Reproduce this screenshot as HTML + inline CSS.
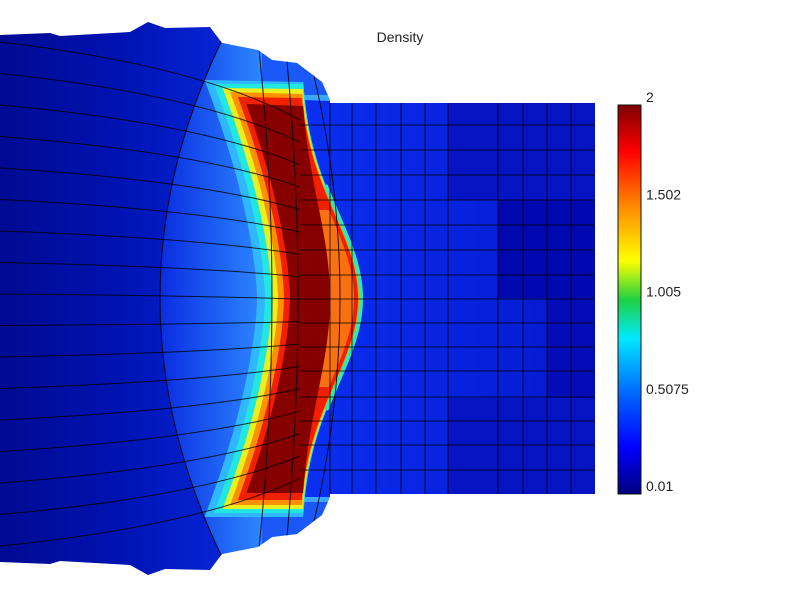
<!DOCTYPE html>
<html><head><meta charset="utf-8"><style>
html,body{margin:0;padding:0;background:#fff;}
svg{display:block;font-family:"Liberation Sans","DejaVu Sans",sans-serif;}
</style></head><body>
<svg id="s" width="800" height="600" viewBox="0 0 800 600">
<defs>
<linearGradient id="jet" x1="0" y1="1" x2="0" y2="0">
<stop offset="0" stop-color="#00007f"/><stop offset="0.12" stop-color="#0000ff"/><stop offset="0.25" stop-color="#0060ff"/><stop offset="0.4" stop-color="#00e8ff"/><stop offset="0.5" stop-color="#20d040"/><stop offset="0.6" stop-color="#ffff00"/><stop offset="0.75" stop-color="#ff8000"/><stop offset="0.88" stop-color="#ff0000"/><stop offset="1" stop-color="#7f0000"/>
</linearGradient>
<linearGradient id="lb" x1="0" y1="0" x2="1" y2="0">
<stop offset="0" stop-color="#0a2ce0"/><stop offset="0.55" stop-color="#2a80ff"/><stop offset="0.8" stop-color="#3aa8ff"/><stop offset="1" stop-color="#3aa8ff"/>
</linearGradient>
<linearGradient id="base" x1="0" y1="0" x2="1" y2="0">
<stop offset="0" stop-color="#000a92"/><stop offset="0.5" stop-color="#0012b0"/><stop offset="1" stop-color="#0626d8"/>
</linearGradient>
<linearGradient id="rg" x1="0" y1="0" x2="1" y2="0">
<stop offset="0" stop-color="#0a2cee"/><stop offset="1" stop-color="#0418cc"/>
</linearGradient>
<clipPath id="blobclip"><path id="blobpath2" d=""/></clipPath>
</defs>
<text x="400" y="42" text-anchor="middle" font-size="14" fill="#222">Density</text>
<g id="field"></g>
<g id="cbar">
<rect x="618" y="105" width="23" height="389" fill="url(#jet)" stroke="#111" stroke-width="1"/>
</g>
</svg>
<script>
const ticks=[2,1.502,1.005,0.5075,0.01];
const tickLabels=["2","1.502","1.005","0.5075","0.01"];
const vmin=0.01,vmax=2;
const NS="http://www.w3.org/2000/svg";
const field=document.getElementById('field');
function el(t,a,p){const e=document.createElementNS(NS,t);for(const k in a)e.setAttribute(k,a[k]);(p||field).appendChild(e);return e;}
const cb=document.getElementById('cbar');
ticks.forEach((v,i)=>{const y=494-(v-vmin)/(vmax-vmin)*389;
const t=el('text',{x:646,y:y-3,'font-size':14,fill:'#222'},cb);
t.textContent=tickLabels[i];

});
const topPts=[[0,35],[50,33],[60,36],[130,32],[148,22],[165,28],[210,27],[222,43],[258,50],[272,60],[297,63],[322,82],[330,100],[330,103]];
const cy=298.5;
let d="M"+topPts.map(p=>p.join(",")).join(" L")+" L595,103 L595,494 L330,494";
for(let i=topPts.length-1;i>=0;i--)d+=" L"+topPts[i][0]+","+(2*cy-topPts[i][1]);
d+=" Z";
document.getElementById('blobpath2').setAttribute('d',d);
const g=el('g',{'clip-path':'url(#blobclip)'});


el('rect',{x:0,y:0,width:230,height:600,fill:'url(#base)'},g);
el('rect',{x:330,y:103,width:265,height:391,fill:'url(#rg)'},g);
el('rect',{x:498,y:200,width:97,height:98,fill:'#0008b0'},g);
el('rect',{x:547,y:298,width:48,height:100,fill:'#040cb8'},g);
el('rect',{x:448,y:103,width:147,height:97,fill:'#0614c4'},g);
el('rect',{x:448,y:398,width:147,height:96,fill:'#0614c4'},g);
function tt(y){return Math.abs(y-cy);}
function R(y){const t=tt(y);return 300+60*Math.exp(-Math.pow(t/120,2));}
function Lr(y){const t=tt(y);return 290-42*Math.pow(t/190,1.6);}
function Dr(y){const t=tt(y);return R(y)-30*Math.exp(-Math.pow(t/110,2));}
function poly(fl,fr,y0,y1,fill){let pts=[];for(let y=y0;y<=y1;y+=3)pts.push(fl(y)+","+y);pts.push(fl(y1)+","+y1);pts.push(fr(y1)+","+y1);for(let y=y1;y>=y0;y-=3)pts.push(fr(y)+","+y);return el('polygon',{points:pts.join(" "),fill:fill},g);}
el('path',{d:`M215,15 L222,40 Q98,${cy} 222,557 L215,585 L331,585 L331,15 Z`,fill:'url(#lb)'},g);
poly(y=>R(y),y=>331,100,497,'#0a2ff0');
el('rect',{x:262,y:40,width:69,height:55,fill:'#1a58f8'},g);
el('rect',{x:262,y:502,width:69,height:55,fill:'#1a58f8'},g);
poly(y=>Lr(y)-33,y=>R(y)+1,80,517,'#30b8ff');
poly(y=>Lr(y)-25,y=>R(y)+1,84,513,'#20e8e0');
poly(y=>Lr(y)-18,y=>R(y),88,509,'#e8f020');
poly(y=>Lr(y)-12,y=>R(y)-1,92,505,'#ff9000');
poly(y=>Lr(y)-6,y=>R(y)-2,97,500,'#f02000');
poly(y=>Lr(y)+30,y=>R(y)-6,210,387,'#f87010');
poly(y=>Lr(y),y=>Dr(y),104,493,'#860000');
let rim=[];for(let y=185;y<=412;y+=3)rim.push((R(y)+1)+","+y);
el('polyline',{points:rim.join(" "),fill:'none',stroke:'#30e8b0','stroke-width':4},g);
[330,352,376,401,425,448,498,523,547,571].forEach(x=>el('line',{x1:x,y1:103,x2:x,y2:494,stroke:'#000','stroke-width':1,'stroke-opacity':0.75},g));
[125,150,175,200,225,250,275,299,323,347,371,397,421,445,470].forEach(y=>el('line',{x1:300,y1:y,x2:595,y2:y,stroke:'#000','stroke-width':1,'stroke-opacity':0.75},g));
for(let i=0;i<17;i++){const y0=42+i*31.5;const y1=120+i*22.4;
el('path',{d:`M0,${y0} Q200,${y0+(y1-y0)*0.3} 300,${y1}`,fill:'none',stroke:'#000','stroke-width':1,'stroke-opacity':0.8},g);}
[[222,160],[258,272],[285,298],[305,340]].forEach(([xt,xm])=>{
el('path',{d:`M${xt},40 Q${2*xm-xt},${cy} ${xt},557`,fill:'none',stroke:'#000','stroke-width':1,'stroke-opacity':0.85},g);});
</script>
</body></html>
